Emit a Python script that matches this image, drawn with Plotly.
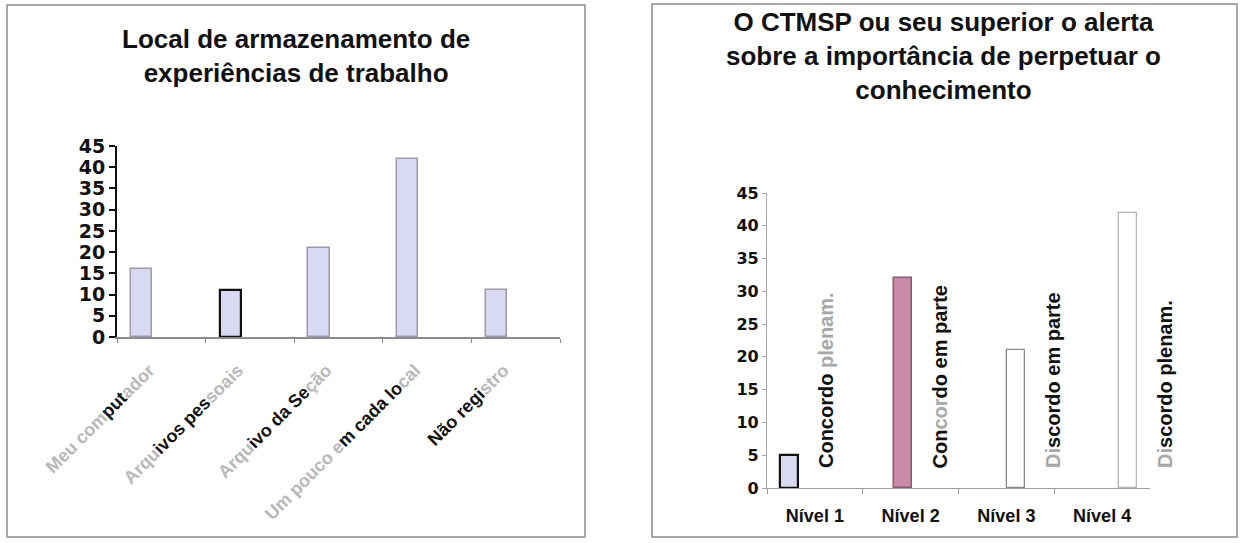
import plotly.graph_objects as go

# ---- data: where work experiences are stored ----
storage_places = ["Meu computador", "Arquivos pessoais", "Arquivo da Seção",
                  "Um pouco em cada local", "Não registro"]
storage_counts = [16, 11, 21, 42, 11]

# ---- data: is the respondent alerted about perpetuating knowledge ----
agreement_levels = ["Nível 1", "Nível 2", "Nível 3", "Nível 4"]
agreement_counts = [5, 32, 21, 42]
agreement_names = ["Concordo plenam.", "Concordo em parte",
                   "Discordo em parte", "Discordo plenam."]

value_ticks = [0, 5, 10, 15, 20, 25, 30, 35, 40, 45]

left_title = "Local de armazenamento de<br>experiências de trabalho"
right_title = ("O CTMSP ou seu superior o alerta<br>"
               "sobre a importância de perpetuar o<br>conhecimento")

FONT = "Liberation Sans, Arial, sans-serif"
NUM_FONT = "DejaVu Sans, Liberation Sans, sans-serif"
W, H = 1248, 543


def shade(text, spans, span_color):
    """Wrap the character ranges in `spans` with a colour span."""
    out, pos = "", 0
    for a, b in spans:
        out += text[pos:a]
        out += f'<span style="color:{span_color}">{text[a:b]}</span>'
        pos = b
    return out + text[pos:]


def px_x(p):
    return p / W


def px_y(p):
    return 1 - p / H


# faded print: most of each category label is light, part is dark ink
storage_ink = [[(7, 10)], [(4, 12)], [(4, 13)], [(10, 19)], [(0, 8)]]
storage_ticktext = [shade(t, s, "#111111") for t, s in zip(storage_places, storage_ink)]

agreement_fade = [[(9, 16)], [(3, 6)], [(0, 2)], [(0, 2)]]
agreement_text = [shade(t, s, "#a8a8a8") for t, s in zip(agreement_names, agreement_fade)]

# bars of the right chart drift across their category slots
bar_shift = [-0.27, -0.08, 0.10, 0.27]
bar_w2 = 0.19

fig = go.Figure()

fig.add_trace(go.Bar(
    x=storage_places, y=storage_counts, xaxis="x", yaxis="y",
    width=0.24, offset=-0.34,
    marker=dict(color="#d9d9f1",
                line=dict(color=["#9c9cab", "#111111", "#9c9cab", "#9c9cab", "#9c9cab"],
                          width=[1.5, 2.2, 1.5, 1.5, 1.5])),
    showlegend=False, hoverinfo="x+y",
))

fig.add_trace(go.Bar(
    x=agreement_levels, y=agreement_counts, xaxis="x2", yaxis="y2",
    width=bar_w2, offset=[s - bar_w2 / 2 for s in bar_shift],
    marker=dict(color=["#d9d9f1", "#c98ba8", "#ffffff", "#ffffff"],
                line=dict(color=["#111111", "#8a5a72", "#8c8c8c", "#b4b4b4"],
                          width=[2.2, 1.5, 1.3, 1.3])),
    showlegend=False, hoverinfo="x+y",
))

annotations = [
    dict(text=left_title, xref="paper", yref="paper", x=px_x(296), y=px_y(56),
         xanchor="center", yanchor="middle", showarrow=False,
         font=dict(family=FONT, size=26, color="#111111", weight="bold")),
    dict(text=right_title, xref="paper", yref="paper", x=px_x(943), y=px_y(56),
         xanchor="center", yanchor="middle", showarrow=False,
         font=dict(family=FONT, size=26, color="#111111", weight="bold")),
]
for i, txt in enumerate(agreement_text):
    annotations.append(dict(
        text=txt, x=i + bar_shift[i], y=0, xref="x2", yref="y2",
        textangle=-90, xanchor="center", yanchor="bottom", xshift=37, yshift=18,
        showarrow=False,
        font=dict(family=FONT, size=20, color="#111111", weight="bold")))

frame = dict(type="rect", xref="paper", yref="paper", layer="below",
             line=dict(color="#8c8c8c", width=1.5), fillcolor="rgba(0,0,0,0)")
shapes = [
    dict(frame, x0=px_x(7), x1=px_x(585), y0=px_y(537), y1=px_y(5)),
    dict(frame, x0=px_x(652), x1=px_x(1237), y0=px_y(537), y1=px_y(4)),
]

fig.update_layout(
    width=W, height=H, autosize=False, margin=dict(l=0, r=0, t=0, b=0, pad=0),
    paper_bgcolor="white", plot_bgcolor="rgba(0,0,0,0)",
    font=dict(family=FONT, color="#111111"),
    bargap=0, annotations=annotations, shapes=shapes,
    xaxis=dict(domain=[px_x(117), px_x(560)], anchor="y", type="category",
               categoryorder="array", categoryarray=storage_places, range=[-0.5, 4.5],
               tickvals=storage_places, ticktext=storage_ticktext, automargin=False,
               tickangle=-45, tickson="boundaries", ticks="outside", ticklen=4,
               ticklabelstandoff=14, ticklabelshift=-12,
               tickcolor="#8c8c8c", showline=True, linecolor="#8c8c8c", linewidth=1.5,
               showgrid=False, zeroline=False,
               tickfont=dict(family=FONT, size=18, color="#b8b8b8", weight="bold")),
    yaxis=dict(domain=[px_y(337), px_y(146)], anchor="x", range=[0, 45],
               tickvals=value_ticks, ticks="outside", ticklen=6, tickwidth=2,
               tickcolor="#111111", showline=True, linecolor="#111111", linewidth=2,
               showgrid=False, zeroline=False, automargin=False,
               tickfont=dict(family=NUM_FONT, size=19, color="#111111", weight="bold")),
    xaxis2=dict(domain=[px_x(767), px_x(1150)], anchor="y2", type="category",
                categoryorder="array", categoryarray=agreement_levels, range=[-0.5, 3.5],
                tickson="boundaries", ticks="outside", ticklen=5, automargin=False,
                ticklabelstandoff=11,
                tickcolor="#a0a0a0", showline=True, linecolor="#a0a0a0", linewidth=1.2,
                showgrid=False, zeroline=False,
                tickfont=dict(family=FONT, size=18, color="#111111", weight="bold")),
    yaxis2=dict(domain=[px_y(488), px_y(193)], anchor="x2", range=[0, 45],
                tickvals=value_ticks, ticks="outside", ticklen=4, automargin=False,
                tickcolor="#a8a8a8", showline=True, linecolor="#a8a8a8", linewidth=1.2,
                showgrid=False, zeroline=False,
                tickfont=dict(family=NUM_FONT, size=16, color="#111111", weight="bold")),
)

fig.write_html("out.html")
